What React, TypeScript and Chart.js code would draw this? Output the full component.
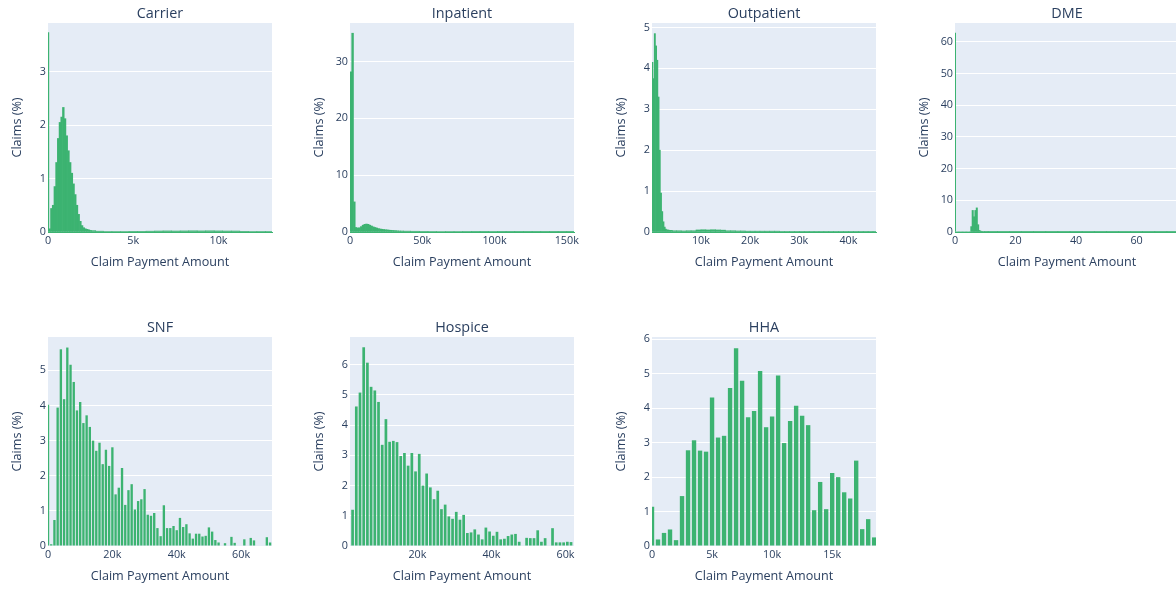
import React, { useEffect, useRef } from 'react';
import { Chart, registerables } from 'chart.js';

Chart.register(...registerables);

const FONT = '"Open Sans", "Noto Sans", sans-serif';
const TEXT = '#2a3f5f';
const BAR = 'rgb(60,179,113)';
const PLOT_BG = '#E5ECF6';

// ---------------- Data (bin centres, claims %) ----------------
// Carrier — x in $k
const carrierBinsK = [
  0, 0.1, 0.2, 0.3, 0.4, 0.5, 0.6, 0.7, 0.8, 0.9,
  1.0, 1.1, 1.2, 1.3, 1.4, 1.5, 1.6, 1.7, 1.8, 1.9,
  2.0, 2.1, 2.2, 2.3, 2.4, 2.5, 2.6,
  3, 3.5, 4, 4.5, 5, 5.5, 6, 6.5, 7, 7.5, 8, 8.5, 9, 9.5, 10, 10.5, 11, 11.5, 12, 12.5, 13,
];
const carrierPct = [
  3.73, 0.06, 0.44, 0.5, 0.85, 1.3, 1.75, 2.05, 2.15, 2.33,
  2.12, 1.8, 1.52, 1.3, 1.1, 0.9, 0.7, 0.5, 0.33, 0.2,
  0.12, 0.08, 0.06, 0.05, 0.04, 0.03, 0.025,
  0.015, 0.01, 0.01, 0.01, 0.012, 0.012, 0.015, 0.018, 0.02, 0.018, 0.02, 0.022, 0.02, 0.022, 0.02, 0.018, 0.018, 0.012, 0.01, 0.008, 0.008,
];

// Inpatient — x in $k
const inpatientBinsK = [
  0.6, 1.8, 3.0, 4.2, 5.4, 6.6, 7.8, 9.0, 10.2, 11.4,
  12.6, 13.8, 15.0, 16.2, 17.4, 18.6, 19.8, 21.0, 22.2, 23.4,
  24.6, 25.8, 27.0, 28.2, 29.4, 30.6, 31.8, 33.0, 34.2, 35.4,
  39, 45, 51, 57, 63, 69, 75, 81, 87, 93, 99, 105, 111, 117, 123, 129, 135, 141, 147, 153,
];
const inpatientPct = [
  28.2, 35.0, 5.3, 0.8, 0.7, 0.75, 0.95, 1.2, 1.35, 1.4,
  1.35, 1.2, 1.05, 0.9, 0.8, 0.7, 0.6, 0.53, 0.48, 0.44,
  0.4, 0.37, 0.33, 0.3, 0.28, 0.25, 0.23, 0.2, 0.18, 0.17,
  0.15, 0.13, 0.11, 0.1, 0.09, 0.08, 0.08, 0.07, 0.06, 0.06, 0.07, 0.05, 0.05, 0.04, 0.04, 0.04, 0.03, 0.03, 0.03, 0.03,
];

// Outpatient — x in $k
const outpatientBinsK = [
  0.125, 0.375, 0.625, 0.875, 1.125, 1.375, 1.625, 1.875,
  2.125, 2.375, 2.625, 2.875, 3.125, 3.375, 3.625, 3.875,
  4.5, 5.5, 6.5, 7.5, 8.5, 9.5, 10.5, 11.5, 12.5, 13.5,
  14.5, 15.5, 16.5, 17.5, 18.5, 19.5, 20.5, 21.5, 22.5, 23.5,
  24.5, 25.5, 26.5, 27.5, 28.5, 29.5, 30.5, 31.5, 32.5, 33.5,
  34.5, 35.5, 36.5, 37.5, 38.5, 39.5, 40.5, 41.5, 42.5, 43.5,
  44.5, 45.5,
];
const outpatientPct = [
  4.15, 3.75, 4.85, 4.55, 4.2, 3.3, 2.0, 0.95,
  0.5, 0.25, 0.12, 0.07, 0.05, 0.05, 0.04, 0.04,
  0.03, 0.03, 0.025, 0.03, 0.03, 0.05, 0.055, 0.05, 0.055, 0.05,
  0.045, 0.03, 0.03, 0.025, 0.025, 0.02, 0.02, 0.02, 0.02, 0.02,
  0.02, 0.02, 0.015, 0.015, 0.015, 0.015, 0.015, 0.015, 0.015, 0.015,
  0.015, 0.015, 0.015, 0.015, 0.015, 0.015, 0.015, 0.015, 0.015, 0.015,
  0.015, 0.015,
];

// DME — x in $
const dmeBins = [
  0, 0.45, 0.9, 1.35, 1.8, 2.25, 2.7, 3.15, 3.6, 4.05, 4.5, 4.95,
  5.4, 5.85, 6.3, 6.75, 7.2, 7.65, 8.1, 8.55, 9.0, 9.45, 9.9,
  12, 16, 20, 24, 28, 32, 36, 40, 44, 48, 52, 56, 60, 64, 68, 72,
];
const dmePct = [
  62.7, 0, 0, 0, 0, 0, 0, 0, 0, 0, 0, 0,
  1.7, 6.8, 4.8, 6.8, 7.6, 2.3, 0.5, 0.25, 0.2, 0.15, 0.1,
  0.1, 0.1, 0.08, 0.08, 0.08, 0.06, 0.06, 0.06, 0.06, 0.05, 0.05, 0.05, 0.05, 0.05, 0.05, 0.05,
];

// SNF — x in $k
const snfBinsK = [
  0, 1, 2, 3, 4, 5, 6, 7, 8, 9,
  10, 11, 12, 13, 14, 15, 16, 17, 18, 19,
  20, 21, 22, 23, 24, 25, 26, 27, 28, 29,
  30, 31, 32, 33, 34, 35, 36, 37, 38, 39,
  40, 41, 42, 43, 44, 45, 46, 47, 48, 49,
  50, 51, 52, 53, 54, 55, 56, 57, 58, 59,
  60, 61, 62, 63, 64, 65, 66, 67, 68, 69,
];
const snfPct = [
  4.02, 0.05, 0.74, 3.94, 5.6, 4.18, 5.65, 5.16, 4.67, 3.86,
  4.1, 3.5, 3.72, 3.39, 3.0, 2.71, 2.94, 2.33, 2.74, 2.28,
  2.81, 1.47, 1.66, 2.22, 1.17, 1.59, 1.76, 1.04, 1.28, 1.33,
  1.62, 0.89, 0.86, 0.94, 0.51, 0.28, 1.16, 0.51, 0.51, 0.57,
  0.45, 0.8, 0.54, 0.62, 0.36, 0.21, 0.35, 0.35, 0.27, 0.29,
  0.53, 0.41, 0.17, 0.1, 0, 0.08, 0, 0.26, 0.09, 0,
  0, 0.19, 0, 0.23, 0.16, 0, 0, 0, 0.25, 0.1,
];

// Hospice — x in $k
const hospiceBinsK = [
  2.5, 3.5, 4.5, 5.5, 6.5, 7.5, 8.5, 9.5, 10.5, 11.5,
  12.5, 13.5, 14.5, 15.5, 16.5, 17.5, 18.5, 19.5, 20.5, 21.5,
  22.5, 23.5, 24.5, 25.5, 26.5, 27.5, 28.5, 29.5, 30.5, 31.5,
  32.5, 33.5, 34.5, 35.5, 36.5, 37.5, 38.5, 39.5, 40.5, 41.5,
  42.5, 43.5, 44.5, 45.5, 46.5, 47.5, 48.5, 49.5, 50.5, 51.5,
  52.5, 53.5, 54.5, 55.5, 56.5, 57.5, 58.5, 59.5, 60.5, 61.5,
];
const hospicePct = [
  1.2, 4.62, 5.08, 6.58, 6.07, 5.27, 5.15, 4.77, 3.35, 4.2,
  3.45, 3.48, 3.44, 2.98, 3.08, 2.66, 3.08, 2.47, 3.05, 2.0,
  2.4, 1.94, 1.55, 1.83, 1.22, 1.37, 0.98, 0.9, 1.13, 0.87,
  1.03, 0.43, 0.45, 0.55, 0.38, 0.22, 0.61, 0.48, 0.34, 0.47,
  0.22, 0.24, 0.33, 0.38, 0.4, 0.14, 0, 0.27, 0.26, 0.26,
  0.52, 0.14, 0.26, 0, 0.59, 0.12, 0.12, 0.12, 0.14, 0.13,
];

// HHA — x in $k
const hhaBinsK = [
  0, 0.5, 1, 1.5, 2, 2.5, 3, 3.5, 4, 4.5,
  5, 5.5, 6, 6.5, 7, 7.5, 8, 8.5, 9, 9.5,
  10, 10.5, 11, 11.5, 12, 12.5, 13, 13.5, 14, 14.5,
  15, 15.5, 16, 16.5, 17, 17.5, 18, 18.5,
];
const hhaPct = [
  1.14, 0.19, 0.38, 0.48, 0.17, 1.45, 2.78, 3.07, 2.77, 2.74,
  4.31, 3.15, 3.2, 4.59, 5.74, 4.8, 3.74, 3.92, 5.08, 3.45,
  3.76, 4.95, 2.99, 3.63, 4.07, 3.78, 3.51, 1.04, 1.86, 1.07,
  2.12, 2.0, 1.56, 1.38, 2.48, 0.49, 0.78, 0.25,
];

// ---------------- Panels ----------------
interface Panel {
  key: string;
  title: string;
  bins: number[];
  pct: number[];
  xMin: number;
  xMax: number;
  xStep: number;
  yMax: number;
  yStep: number;
  unit: string;
  flex: boolean;
  baseline: boolean;
  col: number;
  row: number;
}

const PANELS: Panel[] = [
  { key: 'carrier', title: 'Carrier', bins: carrierBinsK, pct: carrierPct, xMin: 0, xMax: 13.14, xStep: 5, yMax: 3.91, yStep: 1, unit: 'k', flex: true, baseline: true, col: 0, row: 0 },
  { key: 'inpatient', title: 'Inpatient', bins: inpatientBinsK, pct: inpatientPct, xMin: 0, xMax: 155, xStep: 50, yMax: 36.8, yStep: 10, unit: 'k', flex: true, baseline: true, col: 1, row: 0 },
  { key: 'outpatient', title: 'Outpatient', bins: outpatientBinsK, pct: outpatientPct, xMin: 0.05, xMax: 45.6, xStep: 10, yMax: 5.11, yStep: 1, unit: 'k', flex: true, baseline: true, col: 2, row: 0 },
  { key: 'dme', title: 'DME', bins: dmeBins, pct: dmePct, xMin: 0, xMax: 74, xStep: 20, yMax: 65.9, yStep: 10, unit: '', flex: true, baseline: true, col: 3, row: 0 },
  { key: 'snf', title: 'SNF', bins: snfBinsK, pct: snfPct, xMin: 0, xMax: 69.6, xStep: 20, yMax: 5.95, yStep: 1, unit: 'k', flex: false, baseline: false, col: 0, row: 1 },
  { key: 'hospice', title: 'Hospice', bins: hospiceBinsK, pct: hospicePct, xMin: 1.8, xMax: 62.3, xStep: 20, yMax: 6.92, yStep: 1, unit: 'k', flex: false, baseline: false, col: 1, row: 1 },
  { key: 'hha', title: 'HHA', bins: hhaBinsK, pct: hhaPct, xMin: 0, xMax: 18.65, xStep: 5, yMax: 6.07, yStep: 1, unit: 'k', flex: false, baseline: false, col: 2, row: 1 },
];

// ---------------- Layout ----------------
const COL_LEFT = [48, 350, 652, 955];
const ROW_TOP = [23, 337];
const PLOT_W = 224;
const PLOT_H = 209;
const PAD_L = 48;
const PAD_T = 23;
const PAD_R = 20;
const PAD_B = 46;
const CW = PAD_L + PLOT_W + PAD_R;
const CH = PAD_T + PLOT_H + PAD_B;

const bgPlugin = {
  id: 'plotBg',
  beforeDraw(chart: any) {
    const { ctx, chartArea: a } = chart;
    ctx.save();
    ctx.fillStyle = PLOT_BG;
    ctx.fillRect(a.left, a.top, a.right - a.left, a.bottom - a.top);
    ctx.restore();
  },
};

function buildConfig(p: Panel): any {
  const fmt = (v: number) => (v === 0 ? '0' : p.unit === 'k' ? `${v}k` : `${v}`);
  return {
    type: 'bar',
    data: {
      datasets: [
        {
          data: p.bins.map((x, i) => ({ x, y: p.pct[i] })),
          backgroundColor: BAR,
          borderWidth: 0,
          barPercentage: p.flex ? 1 : 0.73,
          categoryPercentage: 1,
          barThickness: p.flex ? 'flex' : undefined,
          clip: 0,
        },
      ],
    },
    options: {
      responsive: false,
      animation: false,
      devicePixelRatio: 1,
      events: [],
      layout: { padding: { left: 0, top: 0, right: PAD_R, bottom: 0 } },
      plugins: {
        legend: { display: false },
        tooltip: { enabled: false },
        title: {
          display: true,
          text: p.title,
          fullSize: false,
          color: TEXT,
          font: { family: FONT, size: 14.4, weight: 'normal', lineHeight: '17px' },
          padding: { top: 5, bottom: 1 },
        },
      },
      scales: {
        x: {
          type: 'linear',
          min: p.xMin,
          max: p.xMax,
          offset: false,
          grid: { display: false, drawTicks: false },
          border: p.baseline ? { display: true, color: BAR, width: 1 } : { display: false },
          ticks: {
            stepSize: p.xStep,
            includeBounds: false,
            autoSkip: false,
            maxRotation: 0,
            padding: 2,
            color: TEXT,
            font: { family: FONT, size: 10.8 },
            callback: (v: any) => fmt(Number(v)),
          },
          title: {
            display: true,
            text: 'Claim Payment Amount',
            color: TEXT,
            font: { family: FONT, size: 12.6, weight: 'normal', lineHeight: '15px' },
            padding: { top: 0, bottom: 8.5 },
          },
          afterFit: (s: any) => {
            s.height = PAD_B;
          },
        },
        y: {
          type: 'linear',
          min: 0,
          max: p.yMax,
          grid: {
            drawTicks: false,
            lineWidth: 1,
            color: (c: any) => (c.tick && c.tick.value === 0 ? 'rgba(0,0,0,0)' : '#ffffff'),
          },
          border: { display: false },
          ticks: {
            stepSize: p.yStep,
            includeBounds: false,
            padding: 2,
            color: TEXT,
            font: { family: FONT, size: 10.8 },
          },
          title: {
            display: true,
            text: 'Claims (%)',
            color: TEXT,
            font: { family: FONT, size: 12.6, weight: 'normal', lineHeight: '15px' },
            padding: { top: 10, bottom: 0 },
          },
          afterFit: (s: any) => {
            s.width = PAD_L;
          },
        },
      },
    },
    plugins: [bgPlugin],
  };
}

export default function App() {
  const refs = useRef<(HTMLCanvasElement | null)[]>([]);

  useEffect(() => {
    const charts = PANELS.map((p, i) => new Chart(refs.current[i] as HTMLCanvasElement, buildConfig(p)));
    return () => {
      charts.forEach((c) => c.destroy());
    };
  }, []);

  return (
    <div
      style={{
        position: 'fixed',
        left: 0,
        top: 0,
        width: 1176,
        height: 590,
        overflow: 'hidden',
        background: '#ffffff',
      }}
    >
      {PANELS.map((p, i) => (
        <canvas
          key={p.key}
          ref={(el) => {
            refs.current[i] = el;
          }}
          width={CW}
          height={CH}
          style={{
            position: 'absolute',
            left: COL_LEFT[p.col] - PAD_L,
            top: ROW_TOP[p.row] - PAD_T,
            width: CW,
            height: CH,
          }}
        />
      ))}
    </div>
  );
}
